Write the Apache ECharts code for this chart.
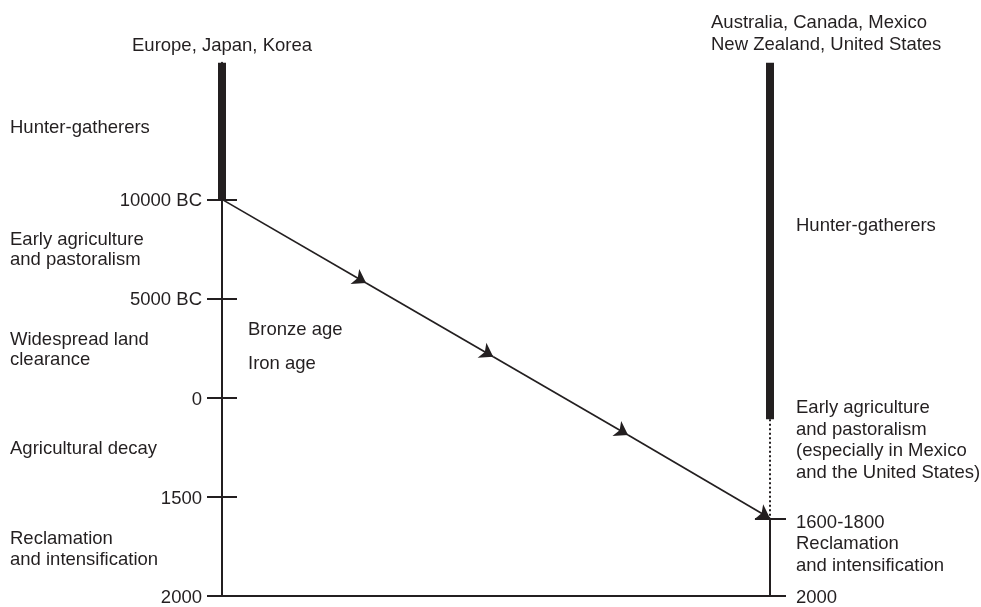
<!DOCTYPE html>
<html>
<head>
<meta charset="utf-8">
<script src="https://cdn.jsdelivr.net/npm/echarts@6/dist/echarts.min.js"></script>
<style>html,body{margin:0;padding:0;background:#fff;}#c{width:981px;height:607px;}</style>
</head>
<body>
<div id="c"></div>
<script>
// ---- data ----
const tickValues = [0, 1, 2, 3, 4];
const tickLabels = ['10000 BC', '5000 BC', '0', '1500', '2000'];
const rightTickValues = [3.22, 4];
const rightTickLabels = ['', '2000'];
const leftHunterSpan = [-1.38, 0];
const rightHunterSpan = [-1.38, 2.22];
const rightEarlyAgSpan = [2.22, 3.22];
const rightReclaimSpan = [3.22, 4];
const arrowX = [0, 0.263, 0.495, 0.741, 1];
const arrowY = [0, 0.844, 1.59, 2.38, 3.22];
const leftPeriods = ['Hunter-gatherers', 'Early agriculture\nand pastoralism', 'Widespread land\nclearance', 'Agricultural decay', 'Reclamation\nand intensification'];
const midPeriods = ['Bronze age', 'Iron age'];
const rightPeriods = ['Hunter-gatherers', 'Early agriculture\nand pastoralism\n(especially in Mexico\nand the United States)', '1600-1800\nReclamation\nand intensification'];
const groupLeft = 'Europe, Japan, Korea';
const groupRight = 'Australia, Canada, Mexico\nNew Zealand, United States';

// ---- chart ----
const INK = '#231f20';
const FONT = '"Liberation Sans", Arial, Helvetica, sans-serif';
const FS = 18.5;
const chart = echarts.init(document.getElementById('c'), null, {renderer: 'canvas'});

function seg(x, span) { return [[x, span[0]], [x, span[1]]]; }
const arrowSegs = [];
for (let i = 1; i < arrowX.length; i++) {
  arrowSegs.push({coords: [[arrowX[i - 1], arrowY[i - 1]], [arrowX[i], arrowY[i]]]});
}
function lbl(v, vals, labs) {
  const i = vals.findIndex(t => Math.abs(t - v) < 1e-6);
  return i >= 0 && labs[i] ? '{t|' + labs[i] + '}' : '';
}
const richT = {t: {color: INK, fontSize: FS, fontFamily: FONT, padding: [4, 0, 0, 0]}};

const yBase = {type: 'value', min: -1.38, max: 4, inverse: true, splitLine: {show: false}};
const textStyle = (t, x, y, align, lh) => ({
  type: 'text', silent: true,
  style: {text: t, x: x, y: y, fill: INK, font: FS + 'px ' + FONT, align: align || 'left', verticalAlign: 'middle', lineHeight: lh || 20.5}
});

chart.setOption({
  animation: false,
  backgroundColor: '#fff',
  grid: {left: 222, right: 211, top: 62.7, height: 535.3},
  xAxis: {type: 'value', min: 0, max: 1, axisLine: {show: true, onZero: false, lineStyle: {color: INK, width: 2}}, axisTick: {show: false}, axisLabel: {show: false}, splitLine: {show: false}},
  yAxis: [
    Object.assign({}, yBase, {position: 'left',
      axisLine: {show: true, onZero: false, lineStyle: {color: INK, width: 2}},
      axisTick: {show: true, customValues: tickValues, length: 15, lineStyle: {color: INK, width: 2}},
      axisLabel: {show: true, customValues: tickValues, margin: 20, rich: richT, formatter: v => lbl(v, tickValues, tickLabels)}}),
    Object.assign({}, yBase, {position: 'left',
      axisLine: {show: false},
      axisTick: {show: true, inside: true, customValues: tickValues, length: 15, lineStyle: {color: INK, width: 2}},
      axisLabel: {show: false}}),
    Object.assign({}, yBase, {position: 'right',
      axisLine: {show: false},
      axisTick: {show: true, customValues: rightTickValues, length: 16, lineStyle: {color: INK, width: 2}},
      axisLabel: {show: true, customValues: rightTickValues, margin: 26, rich: richT, formatter: v => lbl(v, rightTickValues, rightTickLabels)}}),
    Object.assign({}, yBase, {position: 'right',
      axisLine: {show: false},
      axisTick: {show: true, inside: true, customValues: rightTickValues, length: 15, lineStyle: {color: INK, width: 2}},
      axisLabel: {show: false}})
  ],
  series: [
    {type: 'line', data: seg(0, leftHunterSpan), symbol: 'none', clip: false, lineStyle: {color: INK, width: 8, cap: 'butt'}},
    {type: 'line', data: seg(1, rightHunterSpan), symbol: 'none', clip: false, lineStyle: {color: INK, width: 8, cap: 'butt'}},
    {type: 'line', data: seg(1, rightEarlyAgSpan), symbol: 'none', clip: false, lineStyle: {color: INK, width: 2, type: [2, 2.5]}},
    {type: 'line', data: seg(1, rightReclaimSpan), symbol: 'none', clip: false, lineStyle: {color: INK, width: 2}},
    {type: 'lines', coordinateSystem: 'cartesian2d', clip: false, symbol: ['none', 'arrow'], symbolSize: [0, 13],
      lineStyle: {color: INK, width: 1.7, opacity: 1}, data: arrowSegs}
  ],
  graphic: [
    textStyle(groupLeft, 222, 46, 'center'),
    textStyle(groupRight, 711, 34, 'left', 22),
    textStyle(leftPeriods[0], 10, 127.5),
    textStyle(leftPeriods[1], 10, 250),
    textStyle(leftPeriods[2], 10, 350),
    textStyle(leftPeriods[3], 10, 448.5),
    textStyle(leftPeriods[4], 10, 549.5),
    textStyle(midPeriods[0], 248, 330),
    textStyle(midPeriods[1], 248, 364),
    textStyle(rightPeriods[0], 796, 226),
    textStyle(rightPeriods[1], 796, 440.5, 'left', 21.7),
    textStyle(rightPeriods[2], 796, 544, 'left', 21.5)
  ]
});
</script>
</body>
</html>
